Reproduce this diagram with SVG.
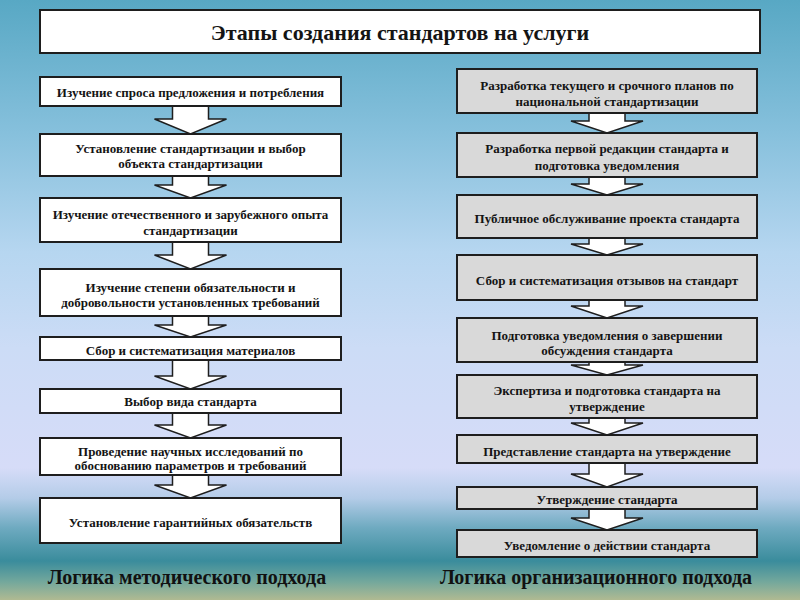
<svg xmlns="http://www.w3.org/2000/svg" width="800" height="600" viewBox="0 0 800 600">
<defs>
<linearGradient id="bg" x1="0" y1="0" x2="0" y2="1">
<stop offset="0" stop-color="#58a8c4"/>
<stop offset="0.22" stop-color="#86c0dc"/>
<stop offset="0.42" stop-color="#b6d6f0"/>
<stop offset="0.58" stop-color="#ccdcf6"/>
<stop offset="0.78" stop-color="#d6dcf8"/>
<stop offset="0.83" stop-color="#b4cce8"/>
<stop offset="0.88" stop-color="#6eaac0"/>
<stop offset="0.935" stop-color="#3a8c9c"/>
<stop offset="0.97" stop-color="#74a89c"/>
<stop offset="1" stop-color="#b0ba92"/>
</linearGradient>
<style>
.box{stroke:#1e1e1e;stroke-width:2}
.w{fill:#ffffff}
.g{fill:#d9d9d9}
.arr{fill:#ffffff;stroke:#1e1e1e;stroke-width:1.5;stroke-linejoin:miter}
text{font-family:'Liberation Serif','DejaVu Serif','Times New Roman',serif;font-weight:bold;fill:#141414;text-anchor:middle;dominant-baseline:central}
.t{font-size:13px}
.title{font-size:22px}
.lab{font-size:20px;fill:#111}
</style>
</defs>
<rect x="0" y="0" width="800" height="600" fill="url(#bg)"/>

<g id="connectors">
<polygon class="arr" points="172.5,106 208.5,106 208.5,119 226.5,119 190.5,134 154.5,119 172.5,119"/>
<polygon class="arr" points="172.5,176 208.5,176 208.5,185 226.5,185 190.5,198 154.5,185 172.5,185"/>
<polygon class="arr" points="172.5,242 208.5,242 208.5,255 226.5,255 190.5,269 154.5,255 172.5,255"/>
<polygon class="arr" points="172.5,316 208.5,316 208.5,325 226.5,325 190.5,337 154.5,325 172.5,325"/>
<polygon class="arr" points="172.5,360 208.5,360 208.5,376 226.5,376 190.5,389 154.5,376 172.5,376"/>
<polygon class="arr" points="172.5,413 208.5,413 208.5,425 226.5,425 190.5,438 154.5,425 172.5,425"/>
<polygon class="arr" points="172.5,475 208.5,475 208.5,485 226.5,485 190.5,498 154.5,485 172.5,485"/>
<polygon class="arr" points="589,113 625,113 625,121 643,121 607,133 571,121 589,121"/>
<polygon class="arr" points="589,177 625,177 625,184 643,184 607,195 571,184 589,184"/>
<polygon class="arr" points="589,238 625,238 625,244 643,244 607,255 571,244 589,244"/>
<polygon class="arr" points="589,300 625,300 625,306 643,306 607,318 571,306 589,306"/>
<polygon class="arr" points="589,362 625,362 625,365 643,365 607,375 571,365 589,365"/>
<polygon class="arr" points="589,418 625,418 625,423 643,423 607,435 571,423 589,423"/>
<polygon class="arr" points="589,463 625,463 625,474 643,474 607,487 571,474 589,474"/>
<polygon class="arr" points="589,509 625,509 625,518 643,518 607,530 571,518 589,518"/>
</g>

<g id="title">
<rect class="box w" x="40" y="10" width="720" height="43"/>
<text class="title" x="400" y="32">Этапы создания стандартов на услуги</text>
</g>

<g id="L1"><rect class="box w" x="40" y="77" width="301" height="29"/>
<text class="t" x="190.5" y="92">Изучение спроса предложения и потребления</text></g>
<g id="L2"><rect class="box w" x="40" y="134" width="301" height="42"/>
<text class="t" x="190.5" y="148">Установление стандартизации и выбор</text>
<text class="t" x="190.5" y="163">объекта стандартизации</text></g>
<g id="L3"><rect class="box w" x="40" y="198" width="301" height="44"/>
<text class="t" x="190.5" y="214">Изучение отечественного и зарубежного опыта</text>
<text class="t" x="190.5" y="230">стандартизации</text></g>
<g id="L4"><rect class="box w" x="40" y="269" width="301" height="47"/>
<text class="t" x="190.5" y="287">Изучение степени обязательности и</text>
<text class="t" x="190.5" y="302">добровольности установленных требований</text></g>
<g id="L5"><rect class="box w" x="40" y="337" width="301" height="23"/>
<text class="t" x="190.5" y="350">Сбор и систематизация материалов</text></g>
<g id="L6"><rect class="box w" x="40" y="389" width="301" height="24"/>
<text class="t" x="190.5" y="401">Выбор вида стандарта</text></g>
<g id="L7"><rect class="box w" x="40" y="438" width="301" height="37"/>
<text class="t" x="190.5" y="451">Проведение научных исследований по</text>
<text class="t" x="190.5" y="465">обоснованию параметров и требований</text></g>
<g id="L8"><rect class="box w" x="40" y="498" width="301" height="45"/>
<text class="t" x="190.5" y="522">Установление гарантийных обязательств</text></g>

<g id="R1"><rect class="box g" x="457" y="69" width="300" height="44"/>
<text class="t" x="607" y="85">Разработка текущего и срочного планов по</text>
<text class="t" x="607" y="101">национальной стандартизации</text></g>
<g id="R2"><rect class="box g" x="457" y="133" width="300" height="44"/>
<text class="t" x="607" y="148">Разработка первой редакции стандарта и</text>
<text class="t" x="607" y="165">подготовка уведомления</text></g>
<g id="R3"><rect class="box g" x="457" y="195" width="300" height="43"/>
<text class="t" x="607" y="218">Публичное обслуживание проекта стандарта</text></g>
<g id="R4"><rect class="box g" x="457" y="255" width="300" height="45"/>
<text class="t" x="607" y="280">Сбор и систематизация отзывов на стандарт</text></g>
<g id="R5"><rect class="box g" x="457" y="318" width="300" height="44"/>
<text class="t" x="607" y="335">Подготовка уведомления о завершении</text>
<text class="t" x="607" y="350">обсуждения стандарта</text></g>
<g id="R6"><rect class="box g" x="457" y="375" width="300" height="43"/>
<text class="t" x="607" y="390">Экспертиза и подготовка стандарта на</text>
<text class="t" x="607" y="406">утверждение</text></g>
<g id="R7"><rect class="box g" x="457" y="435" width="300" height="28"/>
<text class="t" x="607" y="451">Представление стандарта на утверждение</text></g>
<g id="R8"><rect class="box g" x="457" y="487" width="300" height="22"/>
<text class="t" x="607" y="499">Утверждение стандарта</text></g>
<g id="R9"><rect class="box g" x="457" y="530" width="300" height="27"/>
<text class="t" x="607" y="545">Уведомление о действии стандарта</text></g>

<g id="labels">
<text class="lab" x="187" y="577">Логика методического подхода</text>
<text class="lab" x="596" y="577">Логика организационного подхода</text>
</g>
</svg>
